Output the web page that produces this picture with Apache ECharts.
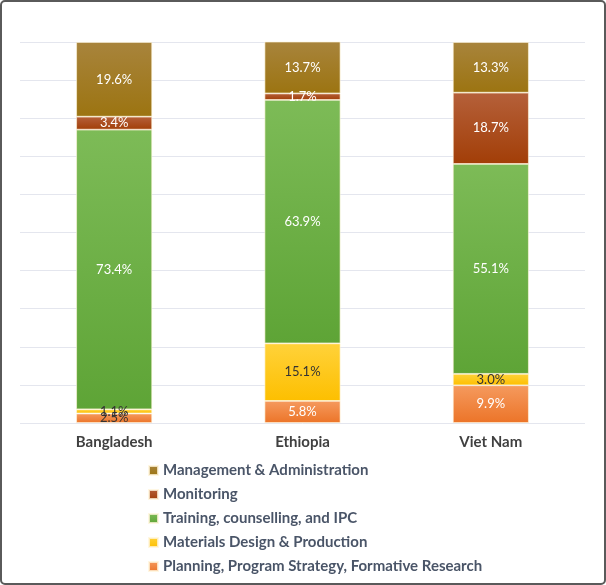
<!DOCTYPE html>
<html>
<head>
    <meta charset="utf-8">
    <title>Budget share by activity</title>
    <script src="https://cdn.jsdelivr.net/npm/echarts@6/dist/echarts.min.js"></script>
    <style>
        html, body { margin: 0; padding: 0; background: #fff; }
        #main { width: 606px; height: 585px; box-sizing: border-box; border: 2px solid #5a5a5a; border-radius: 5px; }
    </style>
</head>
<body>
    <div id="main"></div>
    <script type="text/javascript">
        // data
        var countries = ['Bangladesh', 'Ethiopia', 'Viet Nam'];
        var planning = [2.5, 5.8, 9.9];
        var materials = [1.1, 15.1, 3.0];
        var training = [73.4, 63.9, 55.1];
        var monitoring = [3.4, 1.7, 18.7];
        var management = [19.6, 13.7, 13.3];
        var seriesNames = [
            'Planning, Program Strategy, Formative Research',
            'Materials Design & Production',
            'Training, counselling, and IPC',
            'Monitoring',
            'Management & Administration'
        ];

        var myChart = echarts.init(document.getElementById('main'));

        function grad(top, bottom) {
            return new echarts.graphic.LinearGradient(0, 0, 0, 1, [
                { offset: 0, color: top },
                { offset: 1, color: bottom }
            ]);
        }

        var styles = [
            { top: '#f59a5e', bottom: '#ec7428', legend: '#f07f34', label: ['#333', '#fff', '#fff'] },
            { top: '#ffd23a', bottom: '#fdbf00', legend: '#ffc000', label: ['#333', '#333', '#333'] },
            { top: '#7dbb57', bottom: '#5ea436', legend: '#6aab41', label: ['#fff', '#fff', '#fff'] },
            { top: '#b5603a', bottom: '#a23e07', legend: '#a94212', label: ['#fff', '#fff', '#fff'] },
            { top: '#a8843c', bottom: '#9c7411', legend: '#a07a1e', label: ['#fff', '#fff', '#fff'] }
        ];

        var dataSets = [planning, materials, training, monitoring, management];

        var series = dataSets.map(function (vals, i) {
            return {
                name: seriesNames[i],
                type: 'bar',
                stack: 'total',
                barWidth: 76,
                itemStyle: {
                    color: grad(styles[i].top, styles[i].bottom),
                    borderColor: 'rgba(255,245,220,0.8)',
                    borderWidth: 0.8
                },
                label: {
                    show: true,
                    position: 'inside',
                    fontFamily: 'Lato',
                    fontSize: 13,
                    formatter: function (p) { return p.value.toFixed(1) + '%'; }
                },
                data: vals.map(function (v, j) {
                    return { value: v, label: { color: styles[i].label[j] } };
                })
            };
        });

        myChart.setOption({
            animation: false,
            color: styles.map(function (s) { return s.legend; }),
            grid: { left: 18, right: 19, top: 40, bottom: 160 },
            legend: {
                orient: 'vertical',
                left: 141,
                top: 456,
                itemWidth: 9,
                itemHeight: 9,
                itemGap: 9,
                icon: 'rect',
                data: seriesNames.slice().reverse(),
                textStyle: { fontFamily: 'Lato', fontSize: 15, fontWeight: 'bold', color: '#4a5568' }
            },
            xAxis: {
                type: 'category',
                data: countries,
                axisLine: { show: false },
                axisTick: { show: false },
                axisLabel: { fontFamily: 'Lato', fontSize: 15, fontWeight: 'bold', color: '#404040', margin: 12 }
            },
            yAxis: {
                type: 'value',
                min: 0,
                max: 100,
                interval: 10,
                axisLabel: { show: false },
                axisLine: { show: false },
                axisTick: { show: false },
                splitLine: { lineStyle: { color: '#e4e6ee', width: 1 } }
            },
            series: series
        });
    </script>
</body>
</html>
